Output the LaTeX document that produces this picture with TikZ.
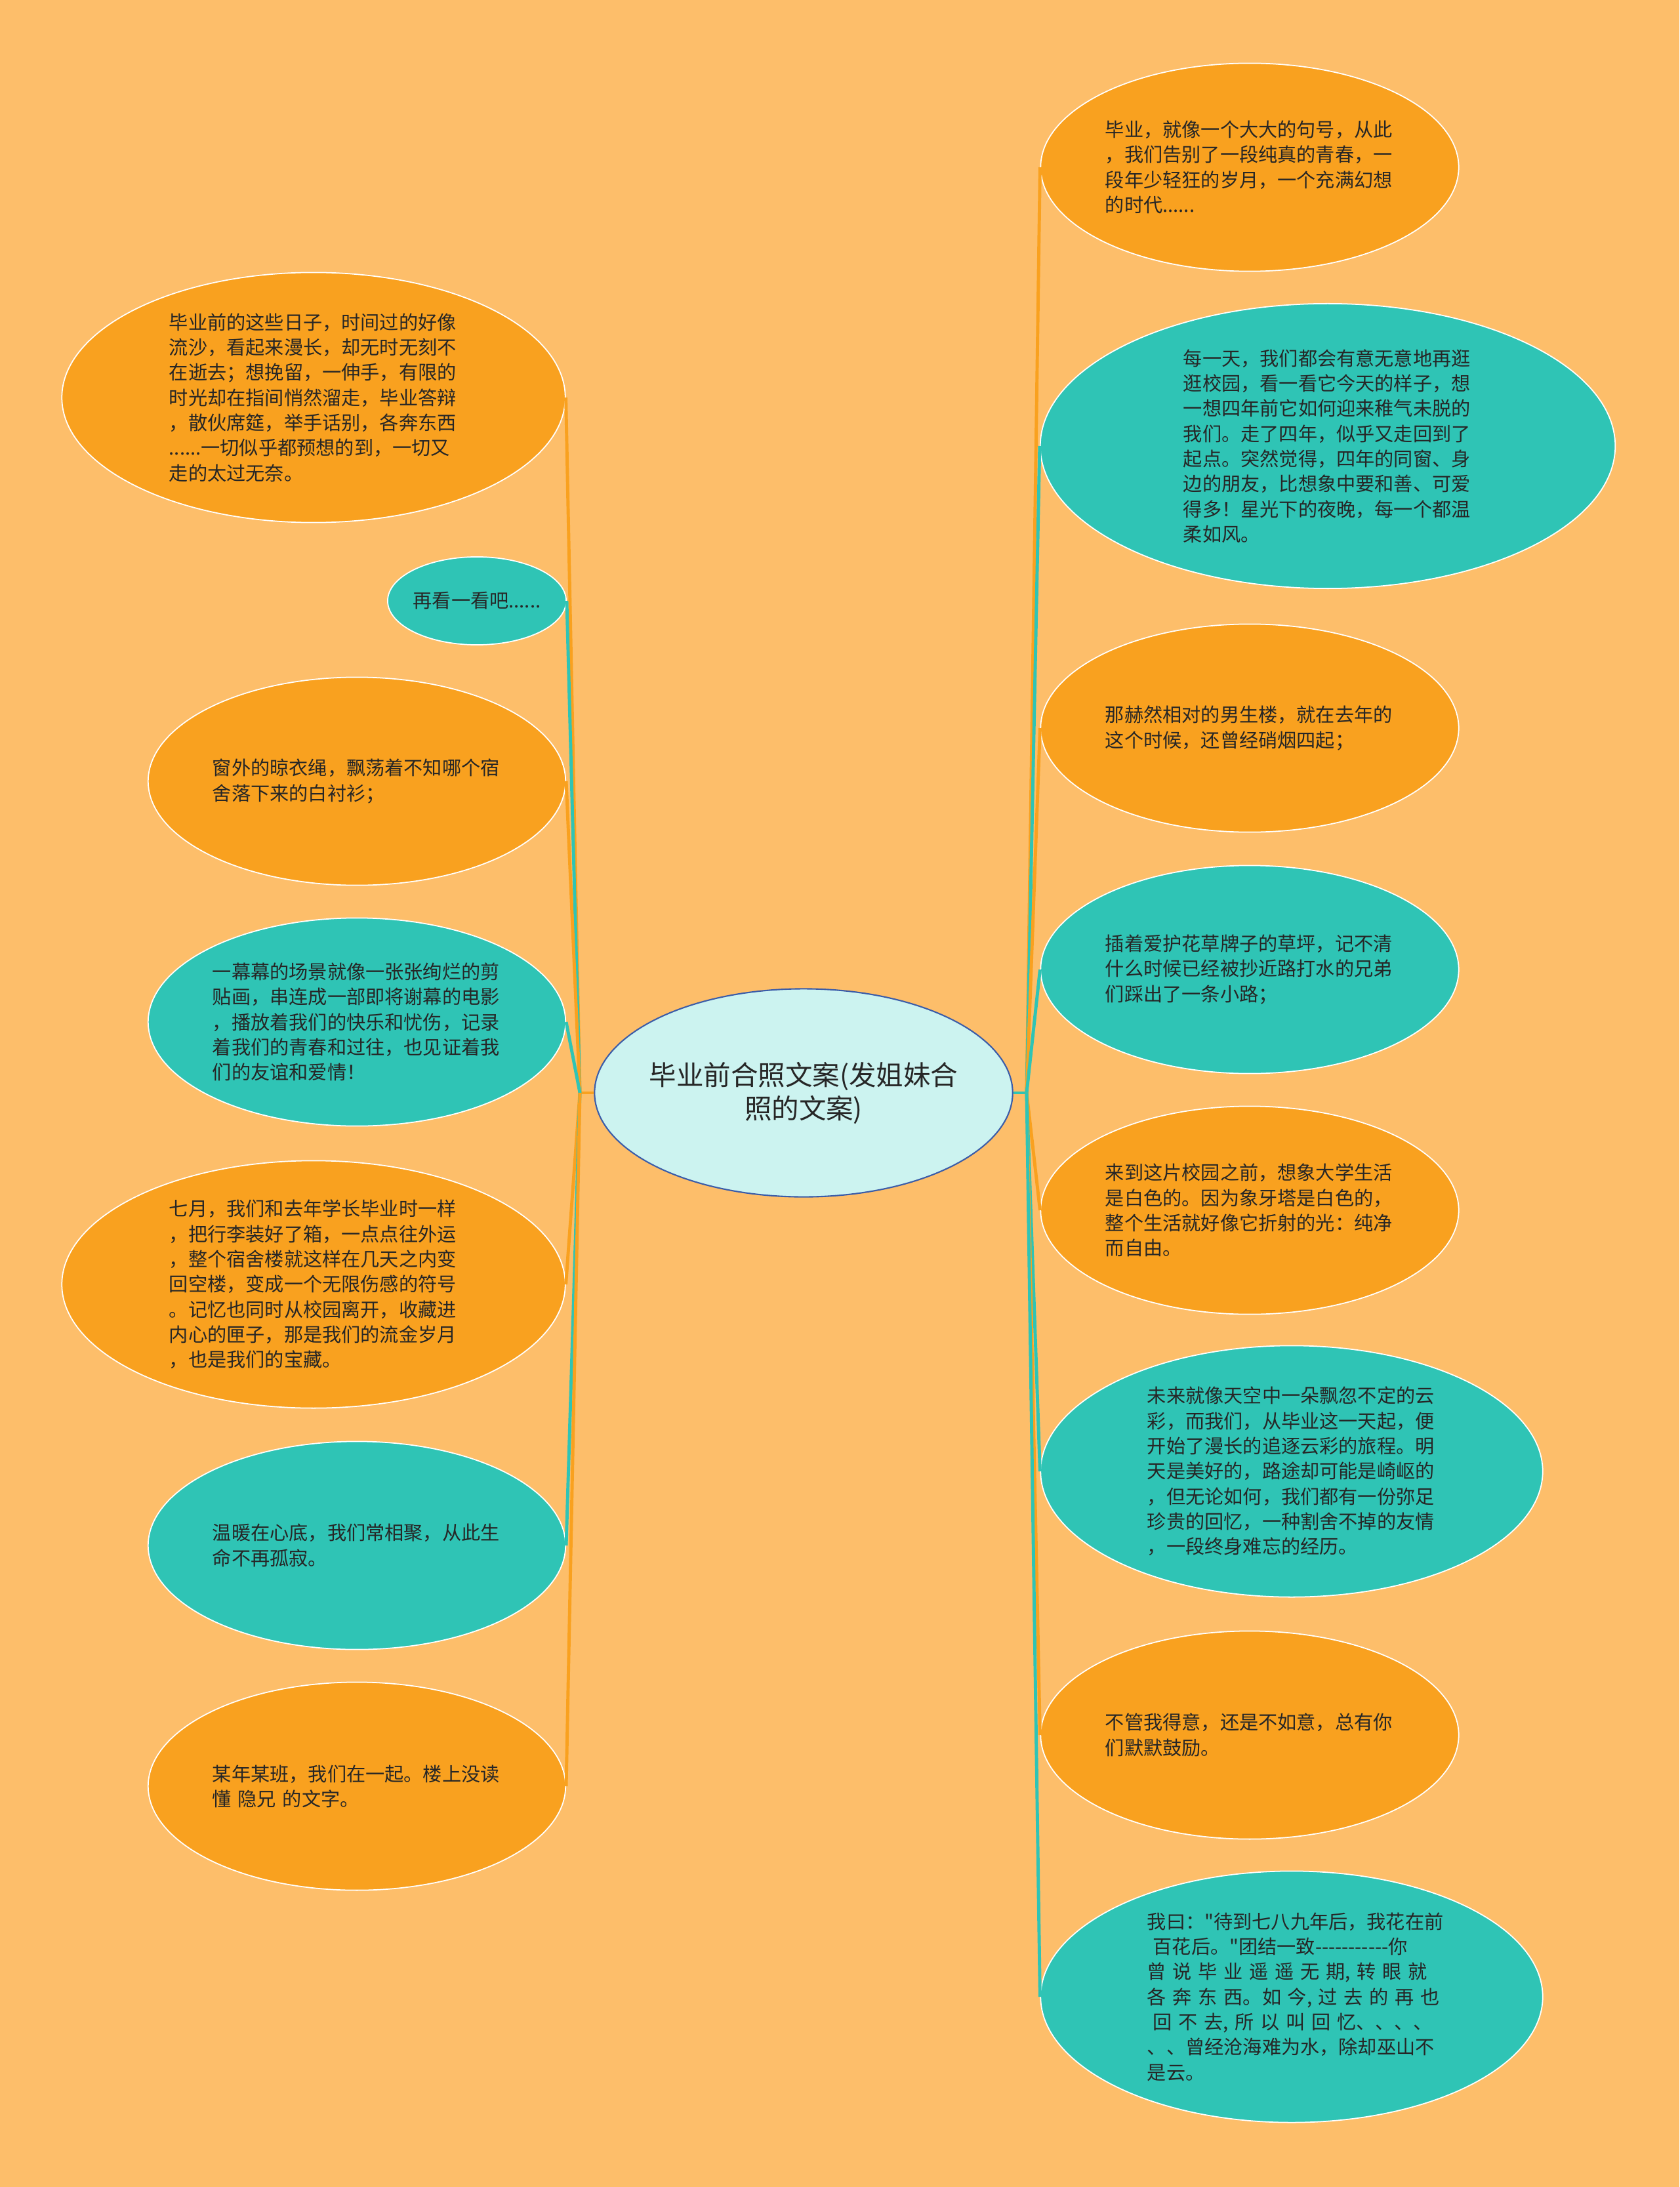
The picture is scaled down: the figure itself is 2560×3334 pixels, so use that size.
\documentclass[tikz,border=0pt]{standalone}
\usepackage{fontspec}
\setmainfont[Ligatures=TeXOff]{Noto Sans CJK SC}
\usetikzlibrary{shapes.geometric}
\definecolor{paper}{HTML}{FDBE6A}
\definecolor{leafOrange}{HTML}{F9A11F}
\definecolor{leafTeal}{HTML}{2FC4B5}
\definecolor{rootFill}{HTML}{CCF3F0}
\definecolor{rootLine}{HTML}{3B5CA8}
\definecolor{ink}{HTML}{262626}

\begin{document}
\begin{tikzpicture}[x=0.01cm, y=-0.01cm,
    bubble/.style={ellipse, draw=white, line width=0.5pt, inner sep=0pt},
    note/.style={text width=4.4cm, align=left, text=ink, inner sep=0pt,
      font=\fontsize{8.3}{10.9}\selectfont},
    link/.style={line width=1.4pt}]
        % Hintergrund
        \fill[paper] (0,0) rectangle (2560,3334);
        \useasboundingbox (0,0) rectangle (2560,3334);

        % Mitte
        \node[ellipse, draw=rootLine, fill=rootFill, line width=0.6pt,
          minimum width=6.37cm, minimum height=3.17cm] (root) at (1225,1666) {};
        \node[align=center, text=ink, font=\fontsize{11.8}{14.5}\selectfont] (rootT) at (root)
          {毕业前合照文案(发姐妹合\\照的文案)};
        \coordinate (hubL) at (884,1666);
        \coordinate (hubR) at (1565,1666);

        % links: 1
        \node[bubble, fill=leafOrange, minimum width=7.67cm, minimum height=3.81cm] (l1) at (478,606) {};
        \node[note] (l1T) at (l1) {毕业前的这些日子，时间过的好像\\流沙，看起来漫长，却无时无刻不\\在逝去；想挽留，一伸手，有限的\\时光却在指间悄然溜走，毕业答辩\\，散伙席筵，举手话别，各奔东西\\......一切似乎都预想的到，一切又\\走的太过无奈。};

        % links: 2
        \node[bubble, fill=leafTeal, minimum width=2.72cm, minimum height=1.34cm] (l2) at (727,916) {};
        \node[text=ink, inner sep=0pt, font=\fontsize{8.3}{10.9}\selectfont] (l2T) at (l2) {再看一看吧......};

        % links: 3
        \node[bubble, fill=leafOrange, minimum width=6.36cm, minimum height=3.17cm] (l3) at (544,1191) {};
        \node[note] (l3T) at (l3) {窗外的晾衣绳，飘荡着不知哪个宿\\舍落下来的白衬衫；};

        % links: 4
        \node[bubble, fill=leafTeal, minimum width=6.36cm, minimum height=3.17cm] (l4) at (544,1558) {};
        \node[note] (l4T) at (l4) {一幕幕的场景就像一张张绚烂的剪\\贴画，串连成一部即将谢幕的电影\\，播放着我们的快乐和忧伤，记录\\着我们的青春和过往，也见证着我\\们的友谊和爱情！};

        % links: 5
        \node[bubble, fill=leafOrange, minimum width=7.67cm, minimum height=3.77cm] (l5) at (478,1958) {};
        \node[note] (l5T) at (l5) {七月，我们和去年学长毕业时一样\\，把行李装好了箱，一点点往外运\\，整个宿舍楼就这样在几天之内变\\回空楼，变成一个无限伤感的符号\\。记忆也同时从校园离开，收藏进\\内心的匣子，那是我们的流金岁月\\，也是我们的宝藏。};

        % links: 6
        \node[bubble, fill=leafTeal, minimum width=6.36cm, minimum height=3.17cm] (l6) at (544,2356) {};
        \node[note] (l6T) at (l6) {温暖在心底，我们常相聚，从此生\\命不再孤寂。};

        % links: 7
        \node[bubble, fill=leafOrange, minimum width=6.36cm, minimum height=3.17cm] (l7) at (544,2723) {};
        \node[note] (l7T) at (l7) {某年某班，我们在一起。楼上没读\\懂 隐兄 的文字。};

        % rechts: 1
        \node[bubble, fill=leafOrange, minimum width=6.37cm, minimum height=3.17cm] (r1) at (1905,255) {};
        \node[note] (r1T) at (r1) {毕业，就像一个大大的句号，从此\\，我们告别了一段纯真的青春，一\\段年少轻狂的岁月，一个充满幻想\\的时代......};

        % rechts: 2
        \node[bubble, fill=leafTeal, minimum width=8.76cm, minimum height=4.34cm] (r2) at (2024,680) {};
        \node[note] (r2T) at (r2) {每一天，我们都会有意无意地再逛\\逛校园，看一看它今天的样子，想\\一想四年前它如何迎来稚气未脱的\\我们。走了四年，似乎又走回到了\\起点。突然觉得，四年的同窗、身\\边的朋友，比想象中要和善、可爱\\得多！星光下的夜晚，每一个都温\\柔如风。};

        % rechts: 3
        \node[bubble, fill=leafOrange, minimum width=6.37cm, minimum height=3.17cm] (r3) at (1905,1110) {};
        \node[note] (r3T) at (r3) {那赫然相对的男生楼，就在去年的\\这个时候，还曾经硝烟四起；};

        % rechts: 4
        \node[bubble, fill=leafTeal, minimum width=6.37cm, minimum height=3.17cm] (r4) at (1905,1478) {};
        \node[note] (r4T) at (r4) {插着爱护花草牌子的草坪，记不清\\什么时候已经被抄近路打水的兄弟\\们踩出了一条小路；};

        % rechts: 5
        \node[bubble, fill=leafOrange, minimum width=6.37cm, minimum height=3.17cm] (r5) at (1905,1845) {};
        \node[note] (r5T) at (r5) {来到这片校园之前，想象大学生活\\是白色的。因为象牙塔是白色的，\\整个生活就好像它折射的光：纯净\\而自由。};

        % rechts: 6
        \node[bubble, fill=leafTeal, minimum width=7.65cm, minimum height=3.83cm] (r6) at (1969,2243) {};
        \node[note] (r6T) at (r6) {未来就像天空中一朵飘忽不定的云\\彩，而我们，从毕业这一天起，便\\开始了漫长的追逐云彩的旅程。明\\天是美好的，路途却可能是崎岖的\\，但无论如何，我们都有一份弥足\\珍贵的回忆，一种割舍不掉的友情\\，一段终身难忘的经历。};

        % rechts: 7
        \node[bubble, fill=leafOrange, minimum width=6.37cm, minimum height=3.17cm] (r7) at (1905,2645) {};
        \node[note] (r7T) at (r7) {不管我得意，还是不如意，总有你\\们默默鼓励。};

        % rechts: 8
        \node[bubble, fill=leafTeal, minimum width=7.65cm, minimum height=3.83cm] (r8) at (1969,3044) {};
        \node[note] (r8T) at (r8) {我曰："待到七八九年后，我花在前\\\hspace*{0.3em}百花后。"团结一致-----------你\\\mbox{曾 说 毕 业 遥 遥 无 期, 转 眼 就}\\\mbox{各 奔 东 西。如 今, 过 去 的 再 也}\\\hspace*{0.3em}\mbox{回 不 去, 所 以 叫 回 忆、、、、}\\、、曾经沧海难为水，除却巫山不\\是云。};

        % Verbindungen
        \draw[link, leafOrange] (root.west) -- (hubL);
        \draw[link, leafTeal] (root.east) -- (hubR);
        \draw[link, leafOrange] (hubL) -- (l1.east);
        \draw[link, leafTeal] (hubL) -- (l2.east);
        \draw[link, leafOrange] (hubL) -- (l3.east);
        \draw[link, leafTeal] (hubL) -- (l4.east);
        \draw[link, leafOrange] (hubL) -- (l5.east);
        \draw[link, leafTeal] (hubL) -- (l6.east);
        \draw[link, leafOrange] (hubL) -- (l7.east);
        \draw[link, leafOrange] (hubR) -- (r1.west);
        \draw[link, leafTeal] (hubR) -- (r2.west);
        \draw[link, leafOrange] (hubR) -- (r3.west);
        \draw[link, leafTeal] (hubR) -- (r4.west);
        \draw[link, leafOrange] (hubR) -- (r5.west);
        \draw[link, leafTeal] (hubR) -- (r6.west);
        \draw[link, leafOrange] (hubR) -- (r7.west);
        \draw[link, leafTeal] (hubR) -- (r8.west);
\end{tikzpicture}
\end{document}
